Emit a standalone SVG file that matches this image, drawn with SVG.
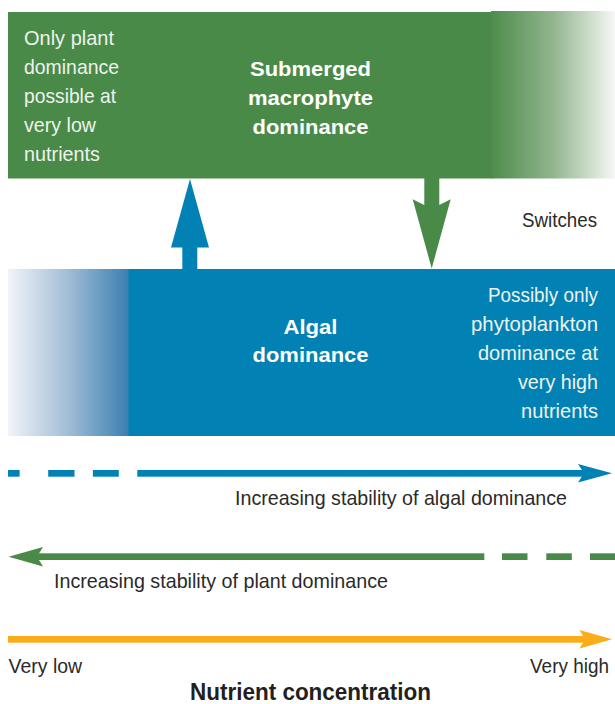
<svg xmlns="http://www.w3.org/2000/svg" width="615" height="704" viewBox="0 0 615 704">
  <style>
    .note { font-family: "Liberation Sans", Arial, sans-serif; font-size: 21px; fill: #edf3ec; }
    .title { font-family: "Liberation Sans", Arial, sans-serif; font-size: 21px; font-weight: bold; fill: #ffffff; text-anchor: middle; }
    .label { font-family: "Liberation Sans", Arial, sans-serif; font-size: 21px; fill: #2b2a2a; }
    .axis-title { font-family: "Liberation Sans", Arial, sans-serif; font-size: 23px; font-weight: bold; fill: #231f20; text-anchor: middle; }
    .green { fill: #4a8a48; }
    .blue { fill: #0281b4; }
    .orange { fill: #fbad19; }
  </style>
  <defs>
    <linearGradient id="greenFade" gradientUnits="userSpaceOnUse" x1="491" y1="0" x2="615" y2="0">
      <stop offset="0" stop-color="#4f8c4c"/>
      <stop offset="0.5" stop-color="#91b58e"/>
      <stop offset="1" stop-color="#f6f8f5"/>
    </linearGradient>
    <linearGradient id="blueFade" gradientUnits="userSpaceOnUse" x1="8" y1="0" x2="128" y2="0">
      <stop offset="0" stop-color="#f1f4f9"/>
      <stop offset="0.5" stop-color="#a2bdd6"/>
      <stop offset="1" stop-color="#3b80b1"/>
    </linearGradient>
  </defs>

  <!-- plant-dominated state -->
  <g id="node-macrophytes">
    <rect class="green" x="8" y="12" width="484" height="166.5"/>
    <rect x="491" y="11" width="124" height="167.5" fill="url(#greenFade)"/>
    <text class="note" x="24" y="45" textLength="90" lengthAdjust="spacingAndGlyphs">Only plant</text>
    <text class="note" x="24" y="74" textLength="95" lengthAdjust="spacingAndGlyphs">dominance</text>
    <text class="note" x="24" y="103" textLength="92" lengthAdjust="spacingAndGlyphs">possible at</text>
    <text class="note" x="24" y="132" textLength="72" lengthAdjust="spacingAndGlyphs">very low</text>
    <text class="note" x="24" y="161" textLength="76" lengthAdjust="spacingAndGlyphs">nutrients</text>
    <text class="title" x="310.5" y="76" textLength="121" lengthAdjust="spacingAndGlyphs">Submerged</text>
    <text class="title" x="310.5" y="105" textLength="125" lengthAdjust="spacingAndGlyphs">macrophyte</text>
    <text class="title" x="310.5" y="134" textLength="116" lengthAdjust="spacingAndGlyphs">dominance</text>
  </g>

  <!-- algae-dominated state -->
  <g id="node-algae">
    <rect class="blue" x="128" y="269" width="487" height="167"/>
    <rect x="8" y="269" width="120.5" height="167" fill="url(#blueFade)"/>
    <text class="title" x="310.5" y="333.5" textLength="54" lengthAdjust="spacingAndGlyphs">Algal</text>
    <text class="title" x="310.5" y="362" textLength="116" lengthAdjust="spacingAndGlyphs">dominance</text>
    <g text-anchor="end">
      <text class="note" x="598" y="302" textLength="110" lengthAdjust="spacingAndGlyphs">Possibly only</text>
      <text class="note" x="598" y="331" textLength="127" lengthAdjust="spacingAndGlyphs">phytoplankton</text>
      <text class="note" x="598" y="360" textLength="120" lengthAdjust="spacingAndGlyphs">dominance at</text>
      <text class="note" x="598" y="389" textLength="80" lengthAdjust="spacingAndGlyphs">very high</text>
      <text class="note" x="598" y="418" textLength="77" lengthAdjust="spacingAndGlyphs">nutrients</text>
    </g>
  </g>

  <!-- switches between the two states -->
  <g id="connectors">
    <polygon id="switch-to-plants" class="blue" points="182.3,269 182.3,247.5 171,247.5 190,179 209,247.5 197.3,247.5 197.3,269"/>
    <polygon id="switch-to-algae" class="green" points="424.3,178 424.3,205 412.7,199.3 431.7,268.5 450.7,199.3 439.3,205 439.3,178"/>
  </g>
  <text id="switches-label" class="label" x="522" y="227" textLength="75" lengthAdjust="spacingAndGlyphs">Switches</text>

  <!-- stability gradients along the nutrient axis -->
  <g id="algal-stability">
    <rect class="blue" x="8" y="470" width="11.6" height="6.7"/>
    <rect class="blue" x="48.2" y="470" width="26.3" height="6.7"/>
    <rect class="blue" x="92.9" y="470" width="25.9" height="6.7"/>
    <rect class="blue" x="137.3" y="470" width="449" height="6.7"/>
    <polygon class="blue" points="578,464 612,473.3 578,482.6 584,473.3"/>
    <text class="label" x="235" y="505" textLength="332" lengthAdjust="spacingAndGlyphs">Increasing stability of algal dominance</text>
  </g>

  <g id="plant-stability">
    <polygon class="green" points="43,547 8.6,556.7 43,566.4 37,556.7"/>
    <rect class="green" x="35" y="553.3" width="449.3" height="6.7"/>
    <rect class="green" x="502" y="553.3" width="25.5" height="6.7"/>
    <rect class="green" x="546.3" y="553.3" width="25.5" height="6.7"/>
    <rect class="green" x="590" y="553.3" width="25" height="6.7"/>
    <text class="label" x="54" y="588" textLength="334" lengthAdjust="spacingAndGlyphs">Increasing stability of plant dominance</text>
  </g>

  <g id="nutrient-axis">
    <rect class="orange" x="8" y="636" width="579" height="6.7"/>
    <polygon class="orange" points="579.5,630 612,639.3 579.5,648.6 585,639.3"/>
    <text class="label" x="8.6" y="672.5" textLength="73.5" lengthAdjust="spacingAndGlyphs">Very low</text>
    <text class="label" x="609" y="672.5" text-anchor="end" textLength="79" lengthAdjust="spacingAndGlyphs">Very high</text>
    <text class="axis-title" x="310.5" y="699.5" textLength="241" lengthAdjust="spacingAndGlyphs">Nutrient concentration</text>
  </g>
</svg>
